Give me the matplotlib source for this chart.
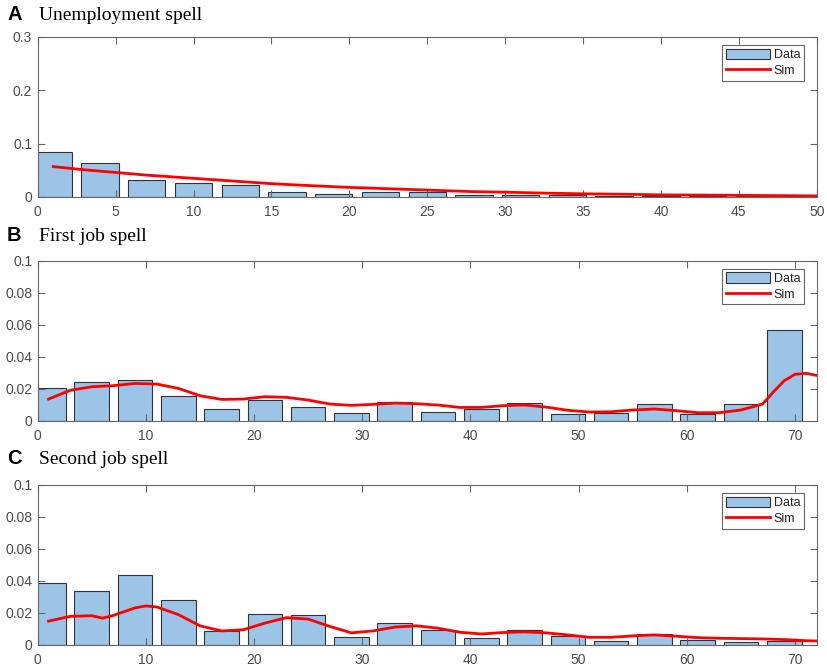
import matplotlib

matplotlib.use("Agg")
import matplotlib.pyplot as plt
from matplotlib.ticker import FuncFormatter

# panel A: unemployment spell
unemp_x = [1, 4, 7, 10, 13, 16, 19, 22, 25, 28, 31, 34, 37, 40, 43, 46, 49]
unemp_data = [0.084, 0.063, 0.032, 0.026, 0.0225, 0.0094, 0.0056, 0.0088, 0.0094,
              0.0044, 0.003, 0.003, 0.0025, 0.002, 0.0018, 0.0012, 0.001]
unemp_sim_x = [1, 3, 5, 7, 10, 13, 15, 17, 20, 23, 25, 28, 30, 33, 35, 38, 40, 43, 45, 48, 50]
unemp_sim = [0.057, 0.051, 0.046, 0.041, 0.035, 0.029, 0.025, 0.022, 0.018, 0.015, 0.013,
             0.010, 0.009, 0.007, 0.006, 0.005, 0.004, 0.0035, 0.003, 0.0025, 0.002]

# panels B and C share the bin centres
job_x = [1, 5, 9, 13, 17, 21, 25, 29, 33, 37, 41, 45, 49, 53, 57, 61, 65, 69]
job1_data = [0.0204, 0.0244, 0.0256, 0.0152, 0.0071, 0.0129, 0.0085, 0.0046, 0.0119,
             0.0052, 0.0073, 0.0108, 0.0042, 0.0046, 0.0102, 0.0044, 0.0102, 0.0569]
job2_data = [0.0387, 0.0335, 0.044, 0.0282, 0.0086, 0.0192, 0.0187, 0.0048, 0.0137,
             0.0095, 0.0042, 0.0095, 0.0055, 0.0023, 0.0067, 0.0034, 0.0017, 0.0027]

job1_sim_x = [1, 3, 5, 7, 9, 11, 13, 15, 17, 19, 21, 23, 25, 27, 29, 31, 33, 35, 37, 39,
              41, 43, 45, 47, 49, 51, 53, 55, 57, 59, 61, 63, 65, 67, 68, 69, 70, 71, 72]
job1_sim = [0.0135, 0.019, 0.0212, 0.0219, 0.0233, 0.0229, 0.0202, 0.0156, 0.0133, 0.0135,
            0.015, 0.0146, 0.0129, 0.0104, 0.0096, 0.0102, 0.011, 0.0106, 0.0098, 0.0083,
            0.0083, 0.0094, 0.0098, 0.0085, 0.0065, 0.0054, 0.0056, 0.0067, 0.0073, 0.0063,
            0.005, 0.005, 0.0067, 0.0104, 0.018, 0.025, 0.029, 0.0296, 0.0283]

job2_sim_x = [1, 3, 5, 6, 7, 9, 10, 11, 13, 15, 17, 19, 21, 23, 25, 27, 29, 31, 33, 35,
              37, 39, 41, 43, 45, 47, 49, 51, 53, 55, 57, 59, 61, 63, 65, 67, 69, 71, 72]
job2_sim = [0.0149, 0.0179, 0.0183, 0.0168, 0.0185, 0.0232, 0.0244, 0.0238, 0.019, 0.012,
            0.0088, 0.0095, 0.0137, 0.0171, 0.0162, 0.0116, 0.0076, 0.0088, 0.0112, 0.012,
            0.0105, 0.008, 0.0069, 0.0078, 0.0082, 0.0076, 0.0063, 0.0048, 0.0048, 0.0057,
            0.0063, 0.0055, 0.0046, 0.0042, 0.004, 0.0038, 0.0034, 0.0027, 0.0025]

BAR_COLOR = "#9cc4e6"
AXIS_GRAY = "#666666"
TEXT_GRAY = "#4a4a4a"

W, H = 827, 669
fig = plt.figure(figsize=(W / 100, H / 100), dpi=100)

panels = [
    ("A", "Unemployment spell", unemp_x, unemp_data, 2.4, unemp_sim_x, unemp_sim,
     (0, 50), range(0, 51, 5), (0, 0.3), [0, 0.1, 0.2, 0.3], 197, 19.5),
    ("B", "First job spell", job_x, job1_data, 3.2, job1_sim_x, job1_sim,
     (0, 72), range(0, 71, 10), (0, 0.1), [0, 0.02, 0.04, 0.06, 0.08, 0.1], 420.7, 241),
    ("C", "Second job spell", job_x, job2_data, 3.2, job2_sim_x, job2_sim,
     (0, 72), range(0, 71, 10), (0, 0.1), [0, 0.02, 0.04, 0.06, 0.08, 0.1], 645, 464.5),
]

fmt = FuncFormatter(lambda v, _: f"{v:g}")
left_px, right_px, height_px = 37.7, 816.7, 160

for letter, title, bx, by, bw, sx, sy, xlim, xticks, ylim, yticks, bottom_px, base_px in panels:
    ax = fig.add_axes([left_px / W, 1 - bottom_px / H, (right_px - left_px) / W, height_px / H])
    bars = ax.bar(bx, by, width=bw, color=BAR_COLOR, edgecolor="#333333", linewidth=0.8)
    line, = ax.plot(sx, sy, color="red", linewidth=2)
    ax.set_xlim(*xlim)
    ax.set_ylim(*ylim)
    ax.set_xticks(list(xticks))
    ax.set_yticks(yticks)
    ax.xaxis.set_major_formatter(fmt)
    ax.yaxis.set_major_formatter(fmt)
    ax.tick_params(direction="in", length=5, width=0.8, color=AXIS_GRAY,
                   labelcolor=TEXT_GRAY, labelsize=10, top=True, right=True, pad=4)
    ax.tick_params(axis="x", pad=6)
    for sp in ax.spines.values():
        sp.set_color(AXIS_GRAY)
        sp.set_linewidth(0.8)
    for lab in ax.get_xticklabels() + ax.get_yticklabels():
        lab.set_fontfamily("Liberation Sans")
    leg = ax.legend([bars, line], ["Data", "Sim"], loc="upper right",
                    bbox_to_anchor=(1 - 12.7 / (right_px - left_px), 1 - 8 / height_px),
                    borderaxespad=0, fancybox=False, framealpha=1, edgecolor=AXIS_GRAY,
                    prop={"family": "Liberation Sans", "size": 9}, handlelength=3.5,
                    handleheight=0.9, borderpad=0.3, labelspacing=0.25, handletextpad=0.3)
    leg.get_frame().set_linewidth(0.8)
    for t in leg.get_texts():
        t.set_color("#222222")

    fig.text(7 / W, 1 - base_px / H, letter, fontsize=14.5, fontweight="bold",
             family="Liberation Sans", va="baseline", ha="left")
    fig.text(39 / W, 1 - base_px / H, title, fontsize=14,
             family="Liberation Serif", va="baseline", ha="left")

fig.savefig("out.png", dpi=100)
